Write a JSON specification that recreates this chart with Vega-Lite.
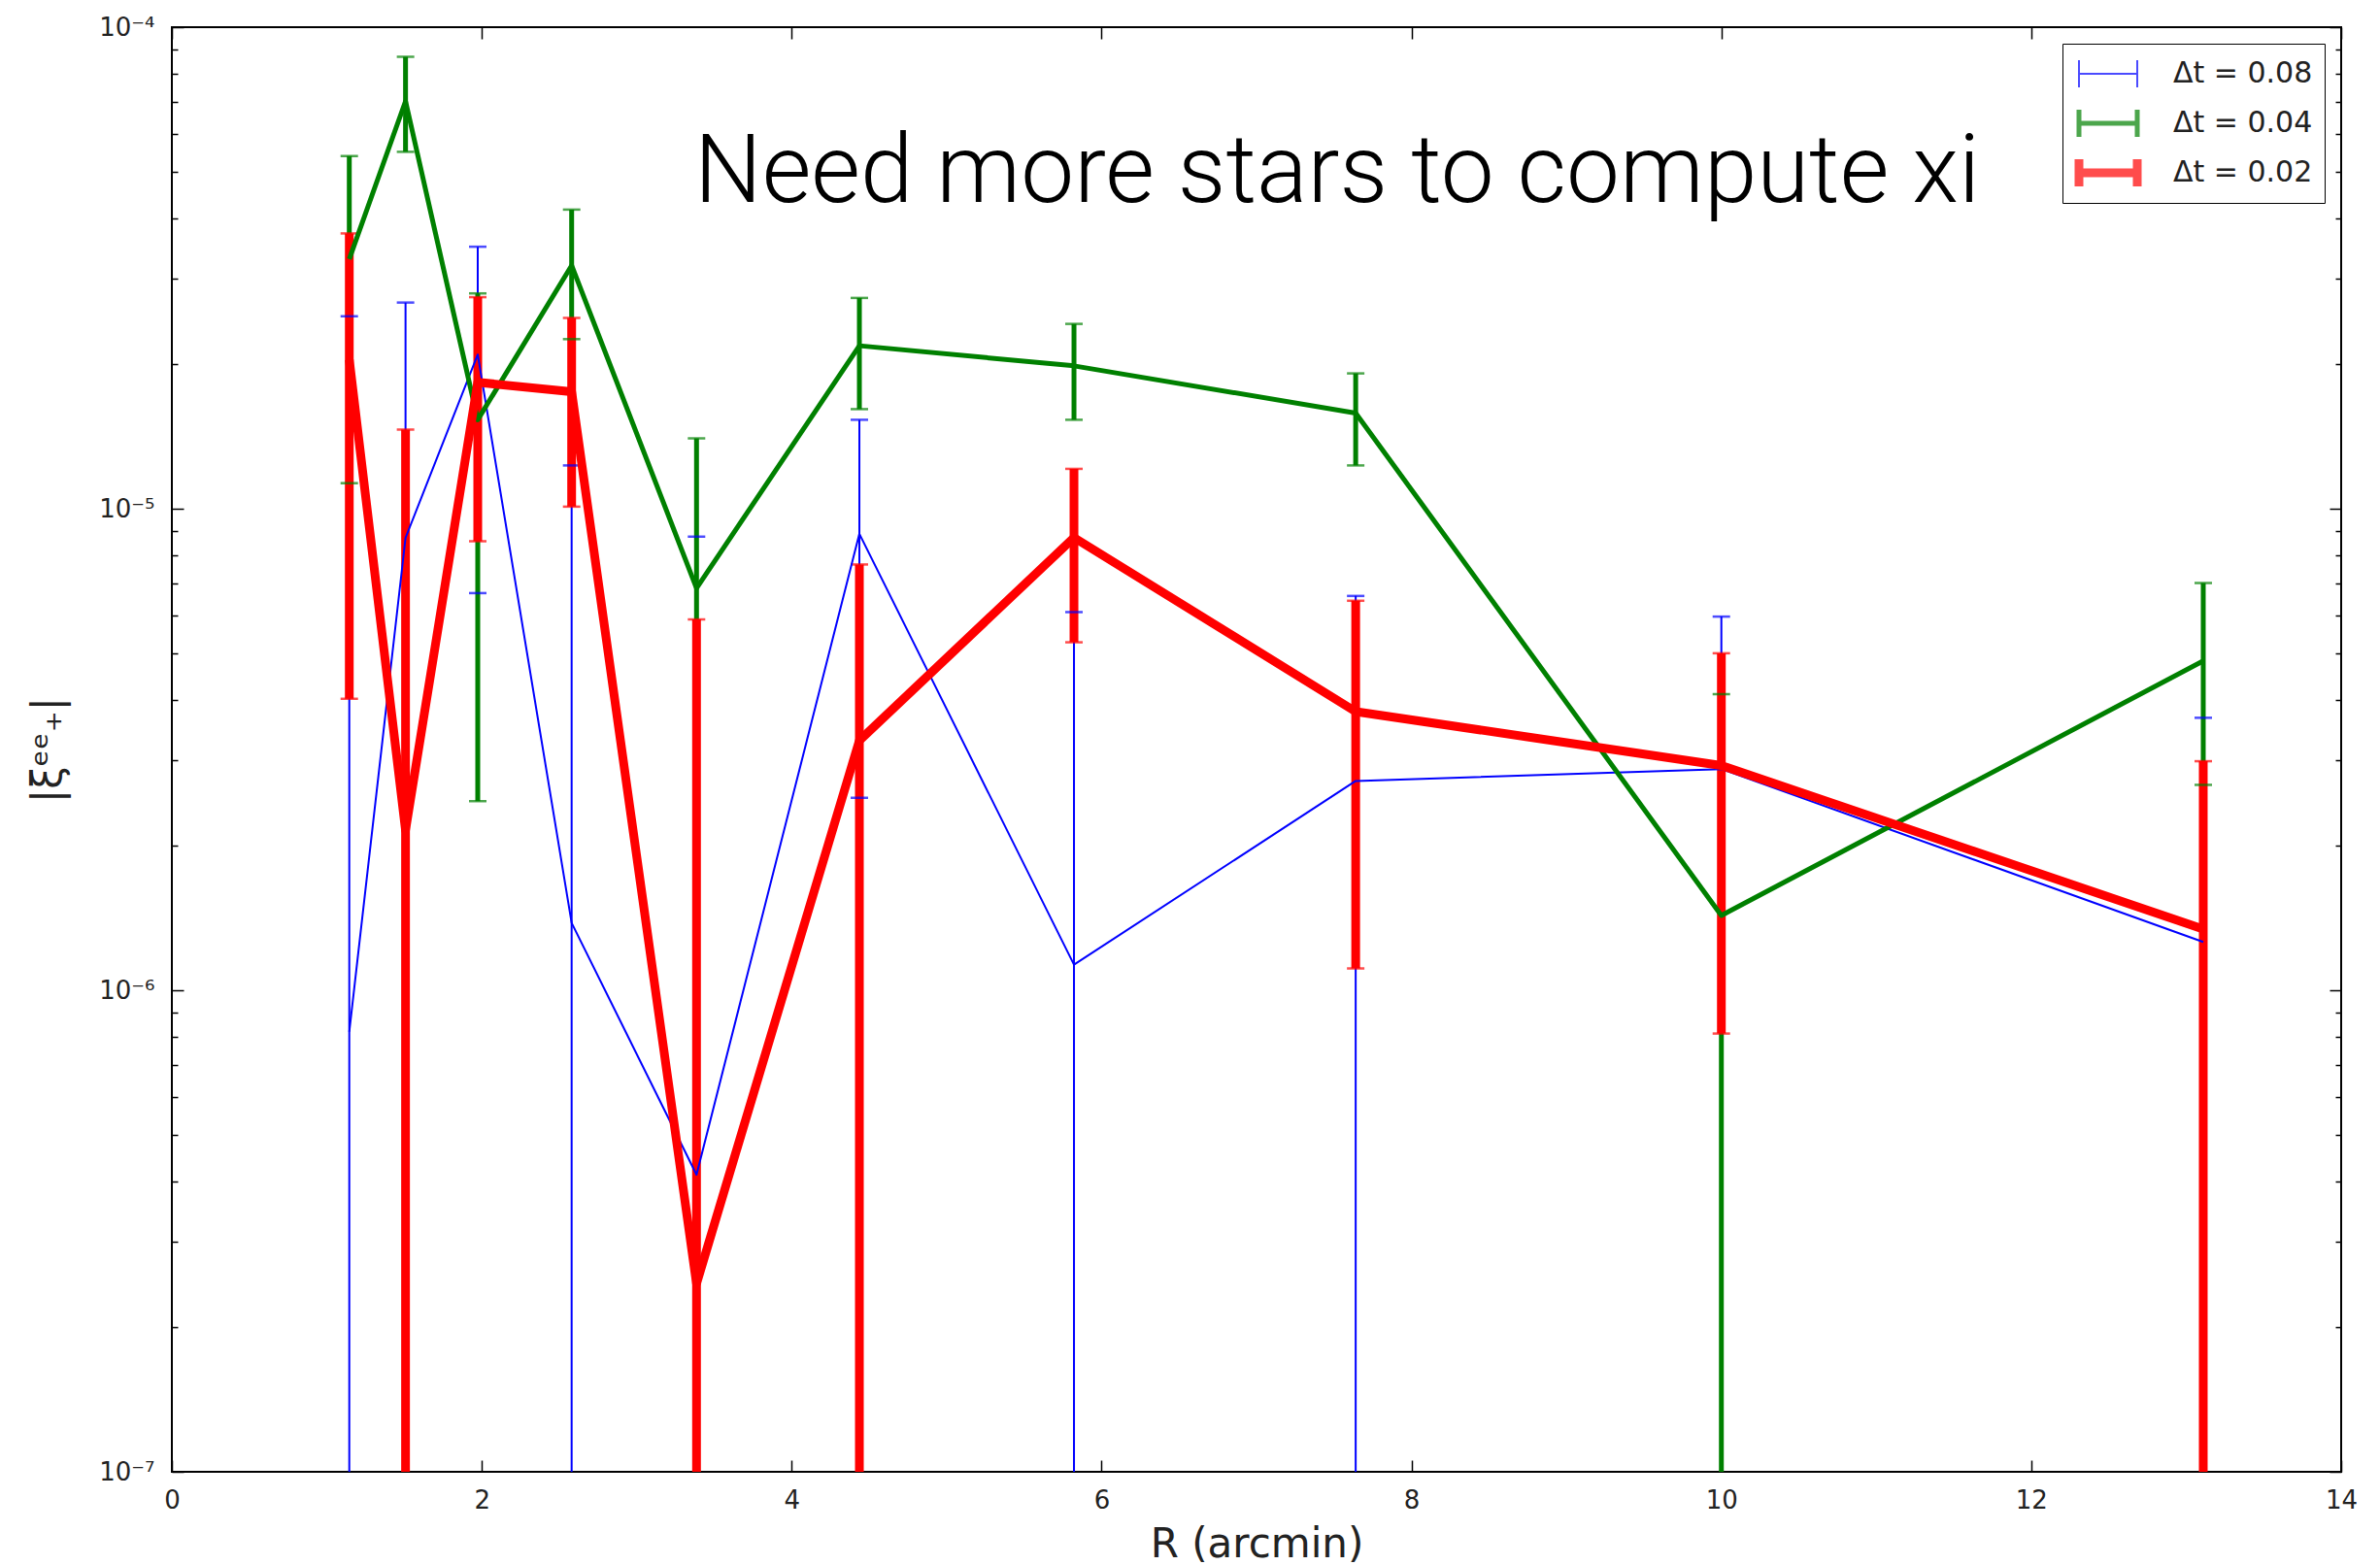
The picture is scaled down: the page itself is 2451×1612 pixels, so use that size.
{
  "$schema": "https://vega.github.io/schema/vega-lite/v6.json",
  "width": 2234,
  "height": 1488,
  "autosize": "none",
  "padding": {"left": 177, "top": 28, "right": 40, "bottom": 96},
  "background": "white",
  "config": {
    "view": {"stroke": "black", "strokeWidth": 2},
    "axis": {
      "grid": false,
      "domain": false,
      "tickColor": "black",
      "tickWidth": 1.5,
      "labelFont": "DejaVu Sans",
      "labelFontSize": 26,
      "labelColor": "#222222",
      "titleFont": "DejaVu Sans",
      "titleFontWeight": "normal",
      "titleColor": "#222222"
    }
  },
  "datasets": {
    "err": [
      {"series": "Δt = 0.08", "x": 1.145, "y": 8.2e-7, "lo": 1e-7, "hi": 2.51e-5},
      {"series": "Δt = 0.08", "x": 1.508, "y": 8.7e-6, "lo": 1e-7, "hi": 2.68e-5},
      {"series": "Δt = 0.08", "x": 1.974, "y": 2.09e-5, "lo": 6.68e-6, "hi": 3.5e-5},
      {"series": "Δt = 0.08", "x": 2.58, "y": 1.38e-6, "lo": 1e-7, "hi": 1.23e-5},
      {"series": "Δt = 0.08", "x": 3.386, "y": 4.14e-7, "lo": 1e-7, "hi": 8.75e-6},
      {"series": "Δt = 0.08", "x": 4.437, "y": 8.87e-6, "lo": 2.51e-6, "hi": 1.53e-5},
      {"series": "Δt = 0.08", "x": 5.822, "y": 1.13e-6, "lo": 1e-7, "hi": 6.1e-6},
      {"series": "Δt = 0.08", "x": 7.64, "y": 2.72e-6, "lo": 1e-7, "hi": 6.59e-6},
      {"series": "Δt = 0.08", "x": 10.0, "y": 2.88e-6, "lo": 1e-7, "hi": 5.97e-6},
      {"series": "Δt = 0.08", "x": 13.11, "y": 1.26e-6, "lo": 1e-7, "hi": 3.68e-6},
      {"series": "Δt = 0.04", "x": 1.145, "y": 3.3e-5, "lo": 1.13e-5, "hi": 5.4e-5},
      {"series": "Δt = 0.04", "x": 1.508, "y": 7.02e-5, "lo": 5.51e-5, "hi": 8.68e-5},
      {"series": "Δt = 0.04", "x": 1.974, "y": 1.53e-5, "lo": 2.47e-6, "hi": 2.8e-5},
      {"series": "Δt = 0.04", "x": 2.58, "y": 3.2e-5, "lo": 2.25e-5, "hi": 4.18e-5},
      {"series": "Δt = 0.04", "x": 3.386, "y": 6.84e-6, "lo": 1e-7, "hi": 1.4e-5},
      {"series": "Δt = 0.04", "x": 4.437, "y": 2.18e-5, "lo": 1.61e-5, "hi": 2.74e-5},
      {"series": "Δt = 0.04", "x": 5.822, "y": 1.98e-5, "lo": 1.53e-5, "hi": 2.42e-5},
      {"series": "Δt = 0.04", "x": 7.64, "y": 1.58e-5, "lo": 1.23e-5, "hi": 1.91e-5},
      {"series": "Δt = 0.04", "x": 10.0, "y": 1.43e-6, "lo": 1e-7, "hi": 4.12e-6},
      {"series": "Δt = 0.04", "x": 13.11, "y": 4.83e-6, "lo": 2.67e-6, "hi": 7.01e-6},
      {"series": "Δt = 0.02", "x": 1.145, "y": 2.04e-5, "lo": 4.03e-6, "hi": 3.73e-5},
      {"series": "Δt = 0.02", "x": 1.508, "y": 2.15e-6, "lo": 1e-7, "hi": 1.46e-5},
      {"series": "Δt = 0.02", "x": 1.974, "y": 1.83e-5, "lo": 8.56e-6, "hi": 2.75e-5},
      {"series": "Δt = 0.02", "x": 2.58, "y": 1.75e-5, "lo": 1.01e-5, "hi": 2.49e-5},
      {"series": "Δt = 0.02", "x": 3.386, "y": 2.46e-7, "lo": 1e-7, "hi": 5.89e-6},
      {"series": "Δt = 0.02", "x": 4.437, "y": 3.3e-6, "lo": 1e-7, "hi": 7.66e-6},
      {"series": "Δt = 0.02", "x": 5.822, "y": 8.71e-6, "lo": 5.28e-6, "hi": 1.21e-5},
      {"series": "Δt = 0.02", "x": 7.64, "y": 3.79e-6, "lo": 1.11e-6, "hi": 6.44e-6},
      {"series": "Δt = 0.02", "x": 10.0, "y": 2.93e-6, "lo": 8.13e-7, "hi": 5.01e-6},
      {"series": "Δt = 0.02", "x": 13.11, "y": 1.34e-6, "lo": 1e-7, "hi": 2.99e-6}
    ]
  },
  "layer": [
    {
      "data": {"name": "err"},
      "mark": {"type": "rule", "strokeCap": "butt"},
      "encoding": {
        "x": {
          "field": "x", "type": "quantitative",
          "scale": {"domain": [0, 14], "nice": false, "zero": false},
          "axis": {
            "orient": "bottom",
            "values": [0, 2, 4, 6, 8, 10, 12, 14],
            "tickSize": -12,
            "labelPadding": 28,
            "labelFlush": false,
            "title": "R (arcmin)",
            "titleFontSize": 42,
            "titlePadding": 12
          }
        },
        "y": {
          "field": "lo", "type": "quantitative",
          "scale": {"type": "log", "domain": [1e-7, 1e-4], "nice": false},
          "axis": {
            "orient": "left",
            "values": [1e-7, 2e-7, 3e-7, 4e-7, 5e-7, 6e-7, 7e-7, 8e-7, 9e-7, 1e-6, 2e-6, 3e-6, 4e-6, 5e-6, 6e-6, 7e-6, 8e-6, 9e-6, 1e-5, 2e-5, 3e-5, 4e-5, 5e-5, 6e-5, 7e-5, 8e-5, 9e-5, 1e-4],
            "tickSize": {"condition": {"test": "abs(log(datum.value)/LN10 - round(log(datum.value)/LN10)) < 0.001", "value": -12}, "value": -6},
            "labelPadding": 30,
            "labelOverlap": false,
            "labelBound": false,
            "labelFlush": false,
            "labelExpr": "datum.value < 1.5e-7 ? '10⁻⁷' : (datum.value > 0.95e-6 && datum.value < 1.05e-6) ? '10⁻⁶' : (datum.value > 0.95e-5 && datum.value < 1.05e-5) ? '10⁻⁵' : datum.value > 0.95e-4 ? '10⁻⁴' : ''",
            "title": "|ξᵉᵉ₊|",
            "titleFontSize": 42,
            "titlePadding": 30
          }
        },
        "y2": {"field": "hi"},
        "color": {
          "field": "series", "type": "nominal",
          "scale": {"domain": ["Δt = 0.08", "Δt = 0.04", "Δt = 0.02"], "range": ["#0000ff", "#008000", "#ff0000"]},
          "legend": {
            "orient": "top-right",
            "offset": 17,
            "title": null,
            "symbolType": "M-1,-1.4V1.4M5,-1.4V1.4M-1,0H5",
            "symbolSize": 400,
            "symbolFillColor": "transparent",
            "labelFont": "DejaVu Sans",
            "labelFontSize": 30,
            "labelColor": "#222222",
            "labelOffset": 72,
            "padding": 12,
            "rowPadding": 13,
            "clipHeight": 38,
            "strokeColor": "black",
            "fillColor": "white",
            "cornerRadius": 0
          }
        },
        "strokeWidth": {
          "field": "series", "type": "nominal",
          "scale": {"type": "ordinal", "domain": ["Δt = 0.08", "Δt = 0.04", "Δt = 0.02"], "range": [2, 5, 9]},
          "legend": null
        }
      }
    },
    {
      "data": {"name": "err"},
      "mark": {"type": "tick", "orient": "horizontal", "size": 18, "thickness": 2.5},
      "encoding": {
        "x": {
          "field": "x", "type": "quantitative",
          "axis": {"orient": "top", "values": [0, 2, 4, 6, 8, 10, 12, 14], "tickSize": -12, "labels": false, "title": null}
        },
        "y": {
          "field": "hi", "type": "quantitative",
          "axis": {
            "orient": "right",
            "values": [1e-7, 2e-7, 3e-7, 4e-7, 5e-7, 6e-7, 7e-7, 8e-7, 9e-7, 1e-6, 2e-6, 3e-6, 4e-6, 5e-6, 6e-6, 7e-6, 8e-6, 9e-6, 1e-5, 2e-5, 3e-5, 4e-5, 5e-5, 6e-5, 7e-5, 8e-5, 9e-5, 1e-4],
            "tickSize": {"condition": {"test": "abs(log(datum.value)/LN10 - round(log(datum.value)/LN10)) < 0.001", "value": -12}, "value": -6},
            "labels": false,
            "title": null
          }
        },
        "color": {"field": "series", "type": "nominal"}
      }
    },
    {
      "data": {"name": "err"},
      "transform": [{"filter": "datum.lo > 1.01e-7"}],
      "mark": {"type": "tick", "orient": "horizontal", "size": 18, "thickness": 2.5},
      "encoding": {
        "x": {"field": "x", "type": "quantitative", "axis": null},
        "y": {"field": "lo", "type": "quantitative", "axis": null},
        "color": {"field": "series", "type": "nominal"}
      }
    },
    {
      "data": {"name": "err"},
      "mark": {"type": "line", "strokeJoin": "round", "strokeCap": "butt"},
      "encoding": {
        "x": {"field": "x", "type": "quantitative", "axis": null},
        "y": {"field": "y", "type": "quantitative", "axis": null},
        "color": {"field": "series", "type": "nominal"},
        "strokeWidth": {
          "field": "series", "type": "nominal",
          "scale": {"type": "ordinal", "domain": ["Δt = 0.08", "Δt = 0.04", "Δt = 0.02"], "range": [2, 5, 9]},
          "legend": null
        }
      }
    },
    {
      "data": {"values": [{"label": "Need more stars to compute xi", "x": 7.52, "y": 4.34e-5}]},
      "mark": {"type": "text", "font": "Roboto", "fontWeight": 300, "fontSize": 98, "align": "center", "baseline": "alphabetic", "color": "black"},
      "encoding": {
        "x": {"field": "x", "type": "quantitative", "axis": null},
        "y": {"field": "y", "type": "quantitative", "axis": null},
        "text": {"field": "label"}
      }
    }
  ],
  "resolve": {"axis": {"x": "independent", "y": "independent"}}
}
